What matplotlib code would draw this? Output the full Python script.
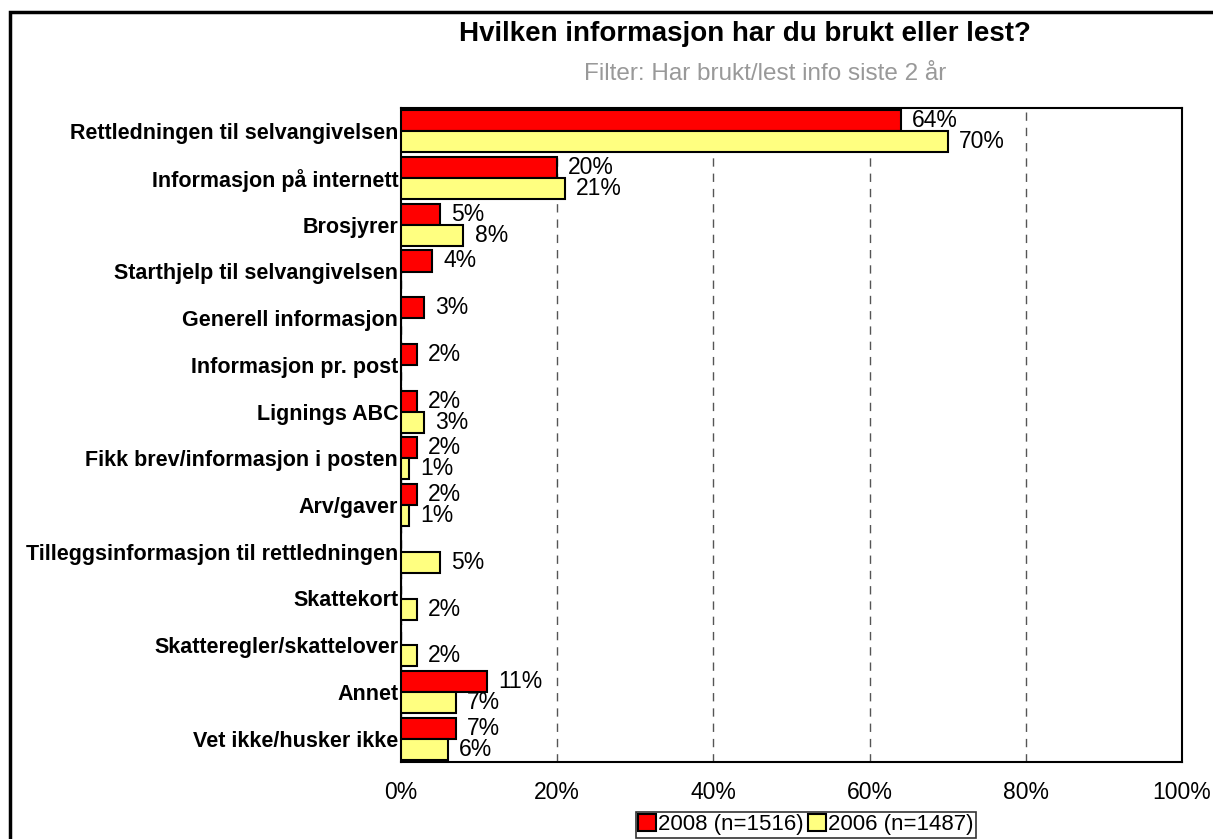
import matplotlib.pyplot as plt
import matplotlib.patches as mpatches
import numpy as np

plt.rcParams['font.family'] = ['Liberation Sans', 'DejaVu Sans']

# Data
kategorier = ['Rettledningen til selvangivelsen', 'Informasjon på internett', 'Brosjyrer',
              'Starthjelp til selvangivelsen', 'Generell informasjon', 'Informasjon pr. post',
              'Lignings ABC', 'Fikk brev/informasjon i posten', 'Arv/gaver',
              'Tilleggsinformasjon til rettledningen', 'Skattekort', 'Skatteregler/skattelover',
              'Annet', 'Vet ikke/husker ikke']
verdier_2008 = [64, 20, 5, 4, 3, 2, 2, 2, 2, np.nan, np.nan, np.nan, 11, 7]
verdier_2006 = [70, 21, 8, np.nan, np.nan, np.nan, 3, 1, 1, 5, 2, 2, 7, 6]
serier = ['2008 (n=1516)', '2006 (n=1487)']
farger = ['#FF0000', '#FFFF80']

fig = plt.figure(figsize=(12.13, 8.39), dpi=100)
ax = fig.add_axes([401/1213, 1 - 762/839, 781/1213, 654/839])

# ramme rundt hele figuren
fig.patches.append(mpatches.Rectangle((10/1213, -0.05), 1.2, 1 - 12/839 + 0.05,
                                      transform=fig.transFigure, fill=False,
                                      edgecolor='black', linewidth=2.5))

y = np.arange(len(kategorier))
h = 0.45
for k, (vals, farge, navn) in enumerate(zip([verdier_2008, verdier_2006], farger, serier)):
    pos = y - h/2 + k*h
    v = np.array(vals, dtype=float)
    ax.barh(pos, np.nan_to_num(v), height=h, color=farge, edgecolor='black',
            linewidth=1.5, label=navn, zorder=3)
    for p, val in zip(pos, v):
        if not np.isnan(val):
            ax.annotate(f'{val:.0f}%', (val, p), xytext=(8, 0), textcoords='offset points',
                        va='center', ha='left', fontsize=16.5)

ax.set_xlim(0, 100)
ax.set_ylim(len(kategorier) - 0.5, -0.5)
ax.set_yticks(y)
ax.set_yticklabels(kategorier, fontsize=15.5, fontweight='bold')
ax.set_xticks([0, 20, 40, 60, 80, 100])
ax.set_xticklabels(['0%', '20%', '40%', '60%', '80%', '100%'], fontsize=16.5)
ax.tick_params(axis='both', length=0, pad=14)
ax.tick_params(axis='y', pad=2)
ax.grid(axis='x', linestyle=(0, (6, 5)), color='#555555', linewidth=1, zorder=0)
for s in ax.spines.values():
    s.set_linewidth(1.5)

fig.text(745/1213, 1 - 34/839, 'Hvilken informasjon har du brukt eller lest?',
         ha='center', va='center', fontsize=20, fontweight='bold')
fig.text(765/1213, 1 - 74/839, 'Filter: Har brukt/lest info siste 2 år',
         ha='center', va='center', fontsize=17.5, color='#999999')

leg = fig.legend(loc='upper center', bbox_to_anchor=(806/1213, 1 - 812/839), ncol=2,
                 fontsize=16, frameon=True, fancybox=False, edgecolor='black',
                 handlelength=0.8, handleheight=0.8, handletextpad=0.1,
                 columnspacing=0.2, borderpad=0.1, borderaxespad=0)
leg.get_frame().set_linewidth(1.2)

fig.savefig('out.png', dpi=100)
